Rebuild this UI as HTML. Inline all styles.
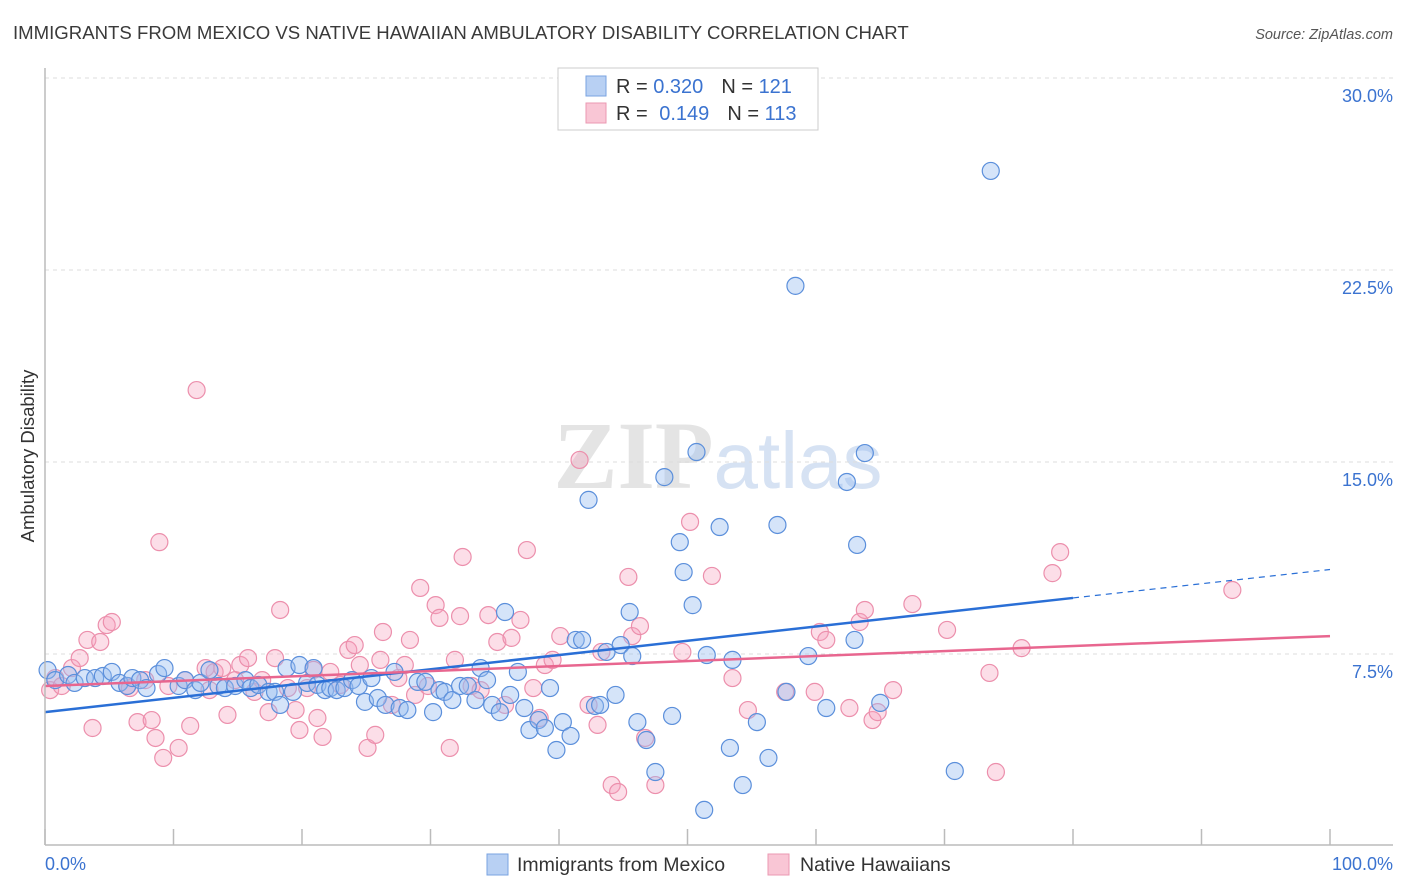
<!DOCTYPE html>
<html><head><meta charset="utf-8"><style>
body{margin:0;background:#fff;font-family:"Liberation Sans",sans-serif;}
svg{display:block}
</style></head><body>
<svg id="c" width="1406" height="892">
<text x="13" y="39" font-size="18.6" fill="#3a3a3a">IMMIGRANTS FROM MEXICO VS NATIVE HAWAIIAN AMBULATORY DISABILITY CORRELATION CHART</text>
<text x="1393" y="39" font-size="14.5" fill="#555" font-style="italic" text-anchor="end">Source: ZipAtlas.com</text>
<text x="718" y="488" font-size="96" fill="#e4e4e4" text-anchor="middle" font-family="Liberation Serif,serif" font-weight="bold">ZIP<tspan fill="#d6e2f3" font-family="Liberation Sans,sans-serif" font-weight="normal" font-size="80">atlas</tspan></text>
<text transform="translate(34,456) rotate(-90)" font-size="18.5" fill="#333" text-anchor="middle">Ambulatory Disability</text>
<g id="grid"></g><g id="pts"></g><g id="lines"></g>
<line x1="45" y1="68" x2="45" y2="845" stroke="#bbb" stroke-width="1.5"/>
<line x1="45" y1="845" x2="1393" y2="845" stroke="#bbb" stroke-width="1.5"/>
<text x="45" y="870" font-size="18" fill="#3b73d0">0.0%</text>
<text x="1393" y="870" font-size="18" fill="#3b73d0" text-anchor="end">100.0%</text>
<g>
<rect x="558" y="68" width="260" height="62" fill="#fff" stroke="#ccc"/>
<rect x="586" y="76" width="20" height="20" fill="#b8d0f3" stroke="#7aa3e0"/>
<rect x="586" y="103" width="20" height="20" fill="#f9c6d5" stroke="#eb98b2"/>
<text x="616" y="93" font-size="20" fill="#333">R = <tspan fill="#3b73d0">0.320</tspan><tspan dx="18">N = </tspan><tspan fill="#3b73d0">121</tspan></text>
<text x="616" y="120" font-size="20" fill="#333">R = <tspan dx="6" fill="#3b73d0">0.149</tspan><tspan dx="18">N = </tspan><tspan fill="#3b73d0">113</tspan></text>
</g>
<rect x="487" y="854" width="21" height="21" fill="#b8d0f3" stroke="#7aa3e0"/>
<text x="517" y="871" font-size="19.5" fill="#333">Immigrants from Mexico</text>
<rect x="768" y="854" width="21" height="21" fill="#f9c6d5" stroke="#eb98b2"/>
<text x="800" y="871" font-size="19.5" fill="#333">Native Hawaiians</text>
</svg>
<script>
const yTicks=[7.5,15,22.5,30];
const yTickLabels=["7.5%","15.0%","22.5%","30.0%"];
const xTicks=[0,10,20,30,40,50,60,70,80,90,100];
const blueX=[0.2,0.8,1.8,2.3,3.1,3.9,4.5,5.2,5.8,6.4,6.8,7.4,7.9,8.8,9.3,10.4,10.9,11.7,12.1,12.8,13.5,14.0,14.8,15.6,16.0,16.6,17.4,17.9,18.3,18.8,19.3,19.8,20.4,20.9,21.2,21.8,22.2,22.7,23.3,23.9,24.4,24.9,25.4,25.9,26.5,27.2,27.6,28.2,29.0,29.6,30.2,30.7,31.1,31.7,32.3,32.9,33.5,33.9,34.4,34.8,35.4,35.8,36.2,36.8,37.3,37.7,38.4,38.9,39.3,39.8,40.3,40.9,41.3,41.8,42.3,42.8,43.2,43.7,44.4,44.8,45.5,45.7,46.1,46.8,47.5,48.2,48.8,49.4,49.7,50.4,50.7,51.3,51.5,52.5,53.3,53.5,54.3,55.4,56.3,57.0,57.7,58.4,59.4,60.8,62.4,63.0,63.2,63.8,65.0,70.8,73.6];
const blueY=[6.87,6.48,6.68,6.37,6.56,6.56,6.64,6.80,6.37,6.25,6.56,6.48,6.17,6.72,6.95,6.25,6.48,6.09,6.37,6.87,6.25,6.17,6.25,6.48,6.17,6.29,6.02,6.02,5.51,6.95,6.02,7.07,6.37,6.95,6.29,6.09,6.17,6.09,6.17,6.48,6.25,5.63,6.56,5.78,5.51,6.80,5.39,5.31,6.41,6.41,5.23,6.09,6.02,5.70,6.25,6.25,5.70,6.95,6.48,5.51,5.23,9.14,5.90,6.80,5.39,4.53,4.92,4.61,6.17,3.75,4.84,4.30,8.05,8.05,13.52,5.47,5.51,7.58,5.90,7.85,9.14,7.42,4.84,4.14,2.89,14.41,5.08,11.87,10.70,9.41,15.39,1.41,7.46,12.46,3.83,7.27,2.38,4.84,3.44,12.54,6.02,21.88,7.42,5.39,14.22,8.05,11.76,15.35,5.59,2.93,26.37];
const pinkX=[0.4,0.8,1.3,2.1,2.7,3.3,3.7,4.3,4.8,5.2,6.4,6.6,7.2,7.8,8.3,8.6,8.9,9.2,9.6,10.4,10.9,11.3,11.8,12.5,12.8,13.2,13.8,14.2,14.8,15.2,15.8,16.3,16.9,17.4,17.9,18.3,18.9,19.5,19.8,20.4,20.9,21.2,21.6,22.2,23.0,23.6,24.1,24.5,25.1,25.7,26.1,26.3,27.0,27.5,28.0,28.4,28.8,29.2,29.8,30.4,30.7,31.5,31.9,32.3,32.5,33.2,33.9,34.5,35.2,35.8,36.3,37.0,37.5,38.0,38.5,38.9,39.5,40.1,41.6,42.3,43.0,43.3,44.1,44.6,45.4,45.7,46.3,46.7,47.5,49.6,50.2,51.9,53.5,54.7,57.6,59.9,60.3,60.8,62.6,63.4,63.8,64.4,64.8,66.0,67.5,70.2,73.5,74.0,76.0,78.4,79.0,92.4];
const pinkY=[6.09,6.56,6.25,6.95,7.34,8.05,4.61,7.97,8.63,8.75,6.25,6.17,4.84,6.48,4.92,4.22,11.87,3.44,6.25,3.83,6.48,4.69,17.81,6.95,6.09,6.80,6.95,5.12,6.48,7.07,7.34,6.02,6.48,5.23,7.34,9.22,6.17,5.31,4.53,6.17,6.88,5.00,4.26,6.80,6.29,7.66,7.85,7.07,3.83,4.34,7.27,8.36,5.51,6.56,7.07,8.05,5.90,10.08,6.25,9.41,8.91,3.83,7.27,8.98,11.29,6.25,6.09,9.02,7.97,5.51,8.13,8.83,11.56,6.17,5.00,7.07,7.27,8.20,15.08,5.51,4.73,7.58,2.38,2.11,10.51,8.20,8.59,4.22,2.38,7.58,12.66,10.55,6.56,5.31,6.02,6.02,8.36,8.05,5.39,8.75,9.22,4.92,5.23,6.09,9.45,8.44,6.76,2.89,7.73,10.66,11.48,10.00];
const blueTrend=[0,5.23,80,9.69,100,10.8];
const pinkTrend=[0,6.25,100,8.20];
const NS="http://www.w3.org/2000/svg";
function sx(v){return 45+v*12.85;}
function sy(v){return 846-v*25.6;}
function mk(t,a,p){const e=document.createElementNS(NS,t);for(const k in a)e.setAttribute(k,a[k]);p.appendChild(e);return e;}
const grid=document.getElementById('grid'),pts=document.getElementById('pts'),lines=document.getElementById('lines');
yTicks.forEach((v,i)=>{
 const l=mk('line',{x1:45,x2:1393,y1:sy(v),y2:sy(v),stroke:'#ddd','stroke-dasharray':'4,4'},grid);
 
 
 const t=mk('text',{x:1393,y:sy(v)+24,'font-size':18,fill:'#3b73d0','text-anchor':'end'},grid);
 t.textContent=yTickLabels[i];
 
 
});
xTicks.forEach(v=>{
 const l=mk('line',{x1:sx(v),x2:sx(v),y1:829,y2:845,stroke:'#bbb','stroke-width':1.5},grid);
 
 
});
pinkX.forEach((x,i)=>{
 const c=mk('circle',{cx:sx(x),cy:sy(pinkY[i]),r:8.5,fill:'rgba(245,160,188,0.35)',stroke:'#ec8fac','stroke-width':1.2},pts);
 
 
});
blueX.forEach((x,i)=>{
 const c=mk('circle',{cx:sx(x),cy:sy(blueY[i]),r:8.5,fill:'rgba(150,188,240,0.4)',stroke:'#5b8fdb','stroke-width':1.2},pts);
 
 
});
let b=mk('line',{x1:sx(blueTrend[0]),y1:sy(blueTrend[1]),x2:sx(blueTrend[2]),y2:sy(blueTrend[3]),stroke:'#2a6fd6','stroke-width':2.5},lines);


b=mk('line',{x1:sx(blueTrend[2]),y1:sy(blueTrend[3]),x2:sx(blueTrend[4]),y2:sy(blueTrend[5]),stroke:'#2a6fd6','stroke-width':1.2,'stroke-dasharray':'6,5'},lines);


const p=mk('line',{x1:sx(pinkTrend[0]),y1:sy(pinkTrend[1]),x2:sx(pinkTrend[2]),y2:sy(pinkTrend[3]),stroke:'#e8668f','stroke-width':2.5},lines);


</script>
</body></html>
